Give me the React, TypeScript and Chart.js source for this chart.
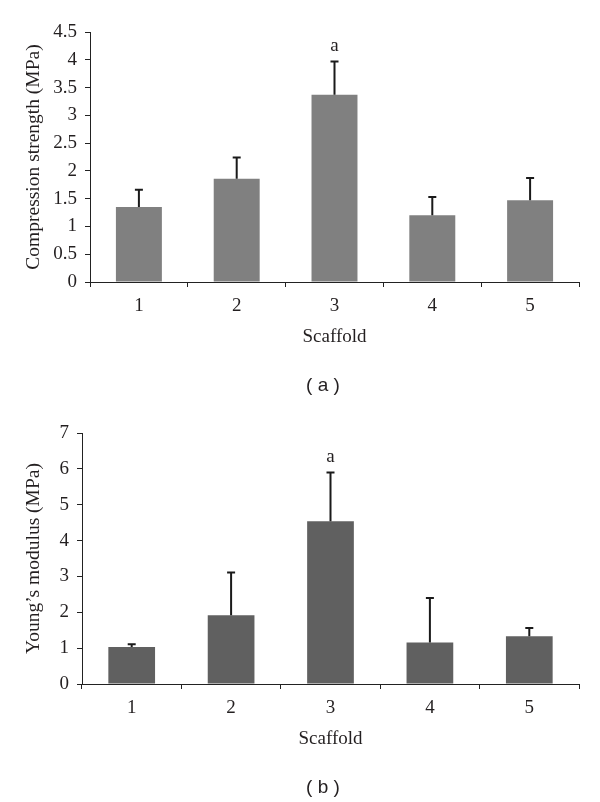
import React, { useEffect, useRef } from "react";
import { Chart, registerables } from "chart.js";

Chart.register(...registerables);

const scaffoldLabels = ["1", "2", "3", "4", "5"];
const compressionMeans = [1.35, 1.86, 3.37, 1.2, 1.47];
const compressionErrors = [0.31, 0.38, 0.6, 0.33, 0.4];
const youngMeans = [1.03, 1.92, 4.54, 1.16, 1.33];
const youngErrors = [0.08, 1.19, 1.36, 1.24, 0.23];
const sigLetters = ["", "", "a", "", ""];

const SERIF = "'Liberation Serif', 'Times New Roman', serif";
const TEXT = "#231f20";
const FS = 19;

const errorBarPlugin = {
  id: "errorBarsAndLetters",
  afterDatasetsDraw(chart: any, _args: any, opts: any) {
    const { ctx } = chart;
    const meta = chart.getDatasetMeta(0);
    const ys = chart.scales.y;
    const values = chart.data.datasets[0].data as number[];
    const errs: number[] = opts.errors || [];
    const letters: string[] = opts.letters || [];
    ctx.save();
    ctx.strokeStyle = "#1a1a1a";
    ctx.lineWidth = 2;
    meta.data.forEach((bar: any, i: number) => {
      const v = values[i];
      const e = errs[i] || 0;
      const x = bar.x;
      const y0 = ys.getPixelForValue(v);
      const y1 = ys.getPixelForValue(v + e);
      ctx.beginPath();
      ctx.moveTo(x, y0);
      ctx.lineTo(x, y1);
      ctx.moveTo(x - 4, y1);
      ctx.lineTo(x + 4, y1);
      ctx.stroke();
      if (letters[i]) {
        ctx.fillStyle = TEXT;
        ctx.font = `${FS}px ${SERIF}`;
        ctx.textAlign = "center";
        ctx.textBaseline = "alphabetic";
        ctx.fillText(letters[i], x, y1 - 10);
      }
    });
    ctx.restore();
  },
};

type PanelProps = {
  values: number[];
  errors: number[];
  color: string;
  max: number;
  step: number;
  yTitle: string;
  padTop: number;
  yAxisWidth: number;
  xAxisHeight: number;
  padBottom: number;
};

function Panel(p: PanelProps) {
  const ref = useRef<HTMLCanvasElement | null>(null);
  useEffect(() => {
    if (!ref.current) return;
    const chart = new Chart(ref.current, {
      type: "bar",
      data: {
        labels: scaffoldLabels,
        datasets: [
          {
            data: p.values,
            backgroundColor: p.color,
            borderWidth: 0,
            barPercentage: 0.47,
            categoryPercentage: 1,
          },
        ],
      },
      options: {
        animation: false,
        responsive: false,
        maintainAspectRatio: false,
        events: [],
        layout: {
          padding: { left: 18, right: 21, top: p.padTop, bottom: p.padBottom },
        },
        plugins: {
          legend: { display: false },
          tooltip: { enabled: false },
          errorBarsAndLetters: { errors: p.errors, letters: sigLetters },
        } as any,
        scales: {
          x: {
            grid: {
              display: true,
              drawOnChartArea: false,
              drawTicks: true,
              tickLength: 5,
              color: "#222",
              tickColor: "#222",
              offset: true,
            },
            border: { display: true, color: "#222", width: 1 },
            ticks: {
              color: TEXT,
              font: { family: SERIF, size: FS },
              padding: 8,
            },
            title: {
              display: true,
              text: "Scaffold",
              color: TEXT,
              font: { family: SERIF, size: FS },
            },
            afterFit: (s: any) => {
              s.height = p.xAxisHeight;
            },
          },
          y: {
            min: 0,
            max: p.max,
            grid: {
              display: true,
              drawOnChartArea: false,
              drawTicks: true,
              tickLength: 5,
              color: "#222",
              tickColor: "#222",
            },
            border: { display: true, color: "#222", width: 1 },
            ticks: {
              stepSize: p.step,
              color: TEXT,
              font: { family: SERIF, size: FS },
              padding: 8,
              callback: (v: any) => String(Number(v)),
            },
            title: {
              display: true,
              text: p.yTitle,
              color: TEXT,
              font: { family: SERIF, size: 19.5 },
            },
            afterFit: (s: any) => {
              s.width = p.yAxisWidth;
            },
          },
        },
      },
      plugins: [errorBarPlugin],
    } as any);
    return () => chart.destroy();
  }, []);
  return <canvas ref={ref} width={600} height={400} style={{ display: "block", width: 600, height: 400 }} />;
}

const captionStyle: React.CSSProperties = {
  position: "absolute",
  left: 0,
  width: 646,
  textAlign: "center",
  fontFamily: "'Liberation Sans', Arial, sans-serif",
  fontSize: 19,
  color: TEXT,
  lineHeight: "22px",
  whiteSpace: "pre",
};

export default function App() {
  return (
    <div style={{ position: "fixed", left: 0, top: 0, width: 600, height: 802, background: "#fff", overflow: "hidden" }}>
      <div style={{ position: "absolute", left: 0, top: 0 }}>
        <Panel
          values={compressionMeans}
          errors={compressionErrors}
          color="#808080"
          max={4.5}
          step={0.5}
          yTitle="Compression strength (MPa)"
          padTop={32}
          yAxisWidth={72}
          xAxisHeight={70}
          padBottom={48}
        />
      </div>
      <div style={{ ...captionStyle, top: 374 }}>( a )</div>
      <div style={{ position: "absolute", left: 0, top: 400 }}>
        <Panel
          values={youngMeans}
          errors={youngErrors}
          color="#606060"
          max={7}
          step={1}
          yTitle="Young’s modulus (MPa)"
          padTop={33}
          yAxisWidth={64}
          xAxisHeight={70}
          padBottom={46}
        />
      </div>
      <div style={{ ...captionStyle, top: 776 }}>( b )</div>
    </div>
  );
}
